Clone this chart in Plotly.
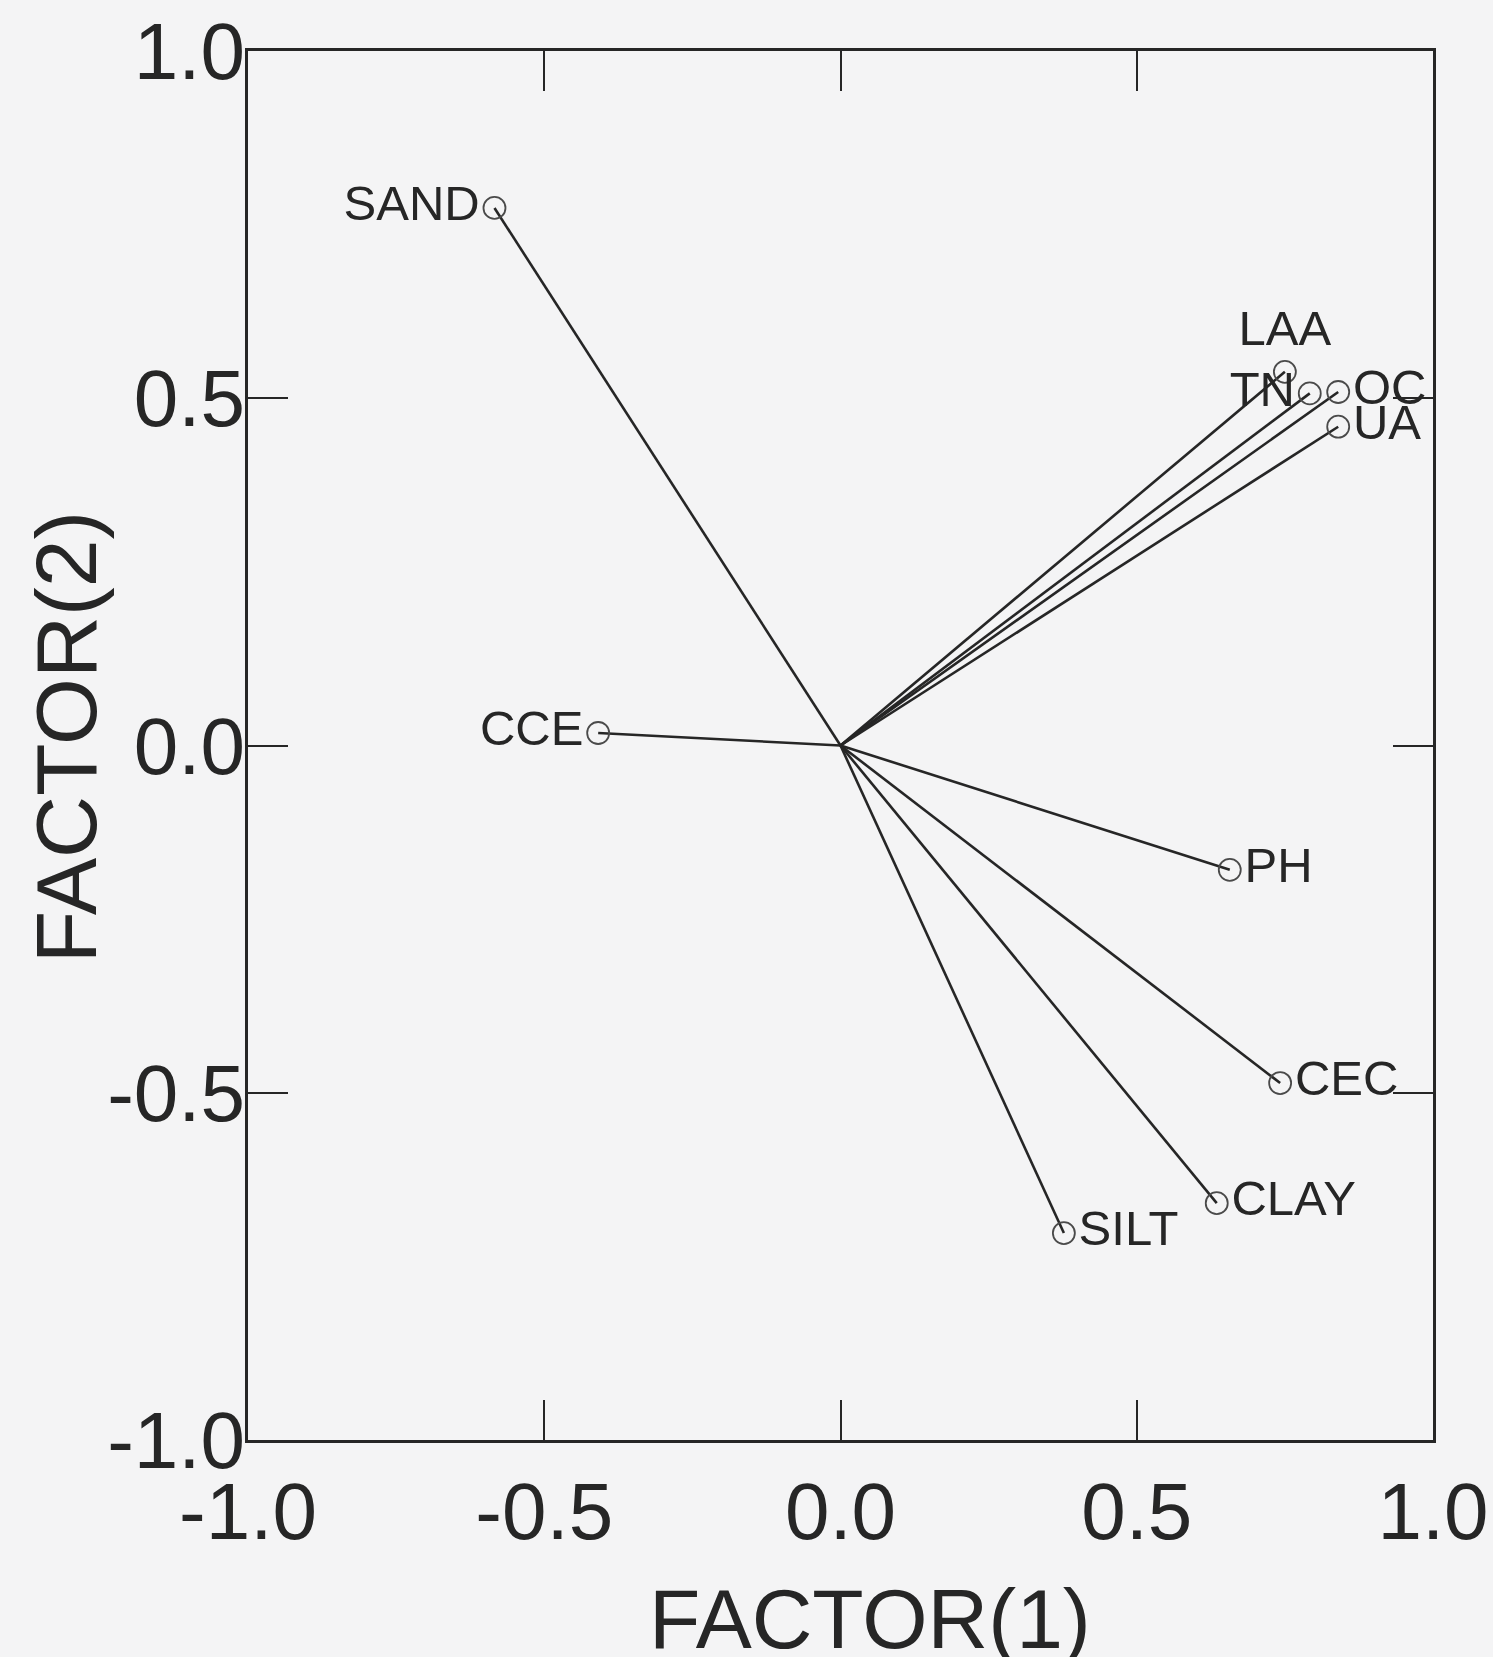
import plotly.graph_objects as go

variables = ["SAND", "CCE", "LAA", "TN", "OC", "UA", "PH", "CEC", "CLAY", "SILT"]
factor1 = [-0.584, -0.409, 0.750, 0.792, 0.840, 0.840, 0.657, 0.742, 0.635, 0.377]
factor2 = [0.774, 0.018, 0.538, 0.507, 0.509, 0.459, -0.179, -0.486, -0.659, -0.702]
label_pos = ["middle left", "middle left", "top center", "middle left", "middle right",
             "middle right", "middle right", "middle right", "middle right", "middle right"]

tick_vals = [-1.0, -0.5, 0.0, 0.5, 1.0]
tick_text = ["-1.0", "-0.5", "0.0", "0.5", "1.0"]

FONT = "Arial, Liberation Sans, sans-serif"
INK = "#262626"

fig = go.Figure()

for name, x, y in zip(variables, factor1, factor2):
    fig.add_trace(go.Scatter(
        x=[0, x], y=[0, y], mode="lines",
        line=dict(color=INK, width=2.6), hoverinfo="skip", showlegend=False,
    ))

fig.add_trace(go.Scatter(
    x=factor1, y=factor2, mode="markers+text",
    text=variables, textposition=label_pos,
    textfont=dict(family=FONT, size=49, color=INK),
    marker=dict(symbol="circle-open", size=22, color="#4a4a4a", line=dict(width=1.8, color="#4a4a4a")),
    showlegend=False,
))

axis_common = dict(
    range=[-1, 1], tickvals=tick_vals, ticktext=tick_text,
    ticks="inside", ticklen=40, tickwidth=2.4, tickcolor=INK,
    showline=True, linecolor=INK, linewidth=3, mirror="ticks",
    showgrid=False, zeroline=False,
    tickfont=dict(family=FONT, size=80, color=INK),
)

fig.update_xaxes(**axis_common)
fig.update_yaxes(**axis_common, ticklabelstandoff=-16)

fig.add_annotation(
    text="FACTOR(1)", xref="paper", yref="paper", x=0.525, y=-0.129,
    xanchor="center", yanchor="middle", showarrow=False,
    font=dict(family=FONT, size=84, color=INK),
)
fig.add_annotation(
    text="FACTOR(2)", xref="paper", yref="paper", x=-0.1536, y=0.506,
    xanchor="center", yanchor="middle", showarrow=False, textangle=-90,
    font=dict(family=FONT, size=86, color=INK),
)

fig.update_layout(
    width=1493, height=1657,
    margin=dict(l=248, r=60, t=51, b=217, autoexpand=False),
    paper_bgcolor="#f4f4f5", plot_bgcolor="#f4f4f5",
)

fig.write_html("out.html", config={"displayModeBar": False},
               post_script="document.body.style.margin='0';document.body.style.background='#f4f4f5';")
